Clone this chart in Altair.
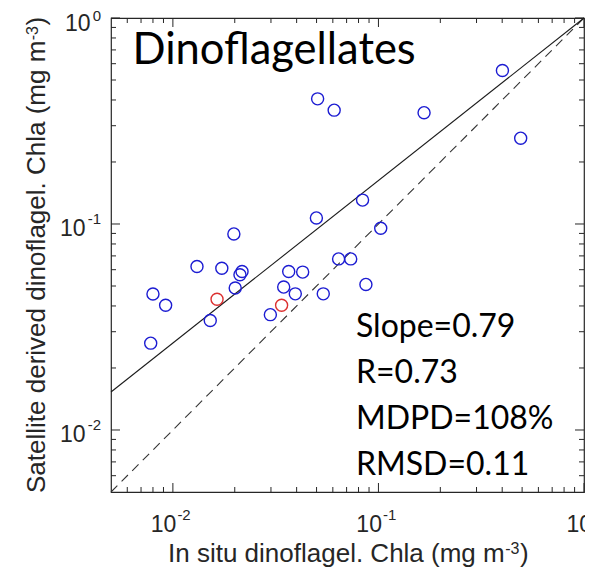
import altair as alt
import pandas as pd

# ---------------- data ----------------
insitu_blue = [0.401, 0.0506, 0.0609, 0.1667, 0.492, 0.0837, 0.0499, 0.1026, 0.0640,
               0.0733, 0.0198, 0.0131, 0.0173, 0.0217, 0.0212, 0.0366, 0.0428, 0.0080,
               0.0201, 0.0346, 0.0394, 0.0539, 0.0869, 0.00922, 0.0152, 0.0298, 0.0078]
sat_blue = [0.556, 0.405, 0.357, 0.347, 0.261, 0.1306, 0.107, 0.0953, 0.0677,
            0.0677, 0.0895, 0.0622, 0.0610, 0.0588, 0.0567, 0.0588, 0.0584, 0.0457,
            0.0489, 0.0494, 0.0458, 0.0458, 0.0509, 0.0403, 0.0340, 0.0363, 0.0264]
insitu_red = [0.0164, 0.0338]
sat_red = [0.0431, 0.0403]

fit_x = [0.005, 1.0]
fit_y = [0.0153, 1.0]
one_x = [0.005, 1.0]
one_y = [0.005, 1.0]

major_ticks = [0.01, 0.1, 1.0]
minor_ticks = [0.006, 0.007, 0.008, 0.009,
               0.02, 0.03, 0.04, 0.05, 0.06, 0.07, 0.08, 0.09,
               0.2, 0.3, 0.4, 0.5, 0.6, 0.7, 0.8, 0.9]
tick_exponents = ["-2", "-1", "0"]

panel_title = "Dinoflagellates"
stats_lines = ["Slope=0.79", "R=0.73", "MDPD=108%", "RMSD=0.11"]
x_title = "In situ dinoflagel. Chla (mg m"
y_title = "Satellite derived dinoflagel. Chla (mg m"
unit_exp = "-3"

# ---------------- layout / style ----------------
W, H = 473, 474
FRAME = "#262626"
SANS = "Liberation Sans"
CAL = "Lato"

xs = alt.Scale(type="log", domain=[0.005, 1.0], nice=False)
ys = alt.Scale(type="log", domain=[0.005, 1.0], nice=False)

pts = pd.DataFrame({
    "insitu": insitu_blue + insitu_red,
    "sat": sat_blue + sat_red,
    "grp": ["blue"] * len(insitu_blue) + ["red"] * len(insitu_red),
})
fit = pd.DataFrame({"x": fit_x, "y": fit_y})
one = pd.DataFrame({"x": one_x, "y": one_y})
maj = pd.DataFrame({"v": major_ticks})
mnr = pd.DataFrame({"v": minor_ticks})
labs = pd.DataFrame({"v": major_ticks, "exp": tick_exponents, "base": ["10"] * 3})
labs_neg = labs[labs["v"] < 1.0]
labs_zero = labs[labs["v"] >= 1.0]
one_row = pd.DataFrame({"a": [0]})

X = lambda f: alt.X(f, type="quantitative", scale=xs, axis=None)
Y = lambda f: alt.Y(f, type="quantitative", scale=ys, axis=None)

layers = []

# tick marks (inside, on all four sides)
for df, ln in ((maj, 9), (mnr, 5)):
    layers.append(alt.Chart(df).mark_rule(color=FRAME, strokeWidth=1).encode(
        x=X("v"), y=alt.value(H), y2=alt.value(H - ln)))
    layers.append(alt.Chart(df).mark_rule(color=FRAME, strokeWidth=1).encode(
        x=X("v"), y=alt.value(0), y2=alt.value(ln)))
    layers.append(alt.Chart(df).mark_rule(color=FRAME, strokeWidth=1).encode(
        y=Y("v"), x=alt.value(0), x2=alt.value(ln)))
    layers.append(alt.Chart(df).mark_rule(color=FRAME, strokeWidth=1).encode(
        y=Y("v"), x=alt.value(W), x2=alt.value(W - ln)))

# 1:1 line and regression line
layers.append(alt.Chart(one).mark_line(color="#333333", strokeWidth=1.1, strokeDash=[9, 6]).encode(
    x=X("x"), y=Y("y")))
layers.append(alt.Chart(fit).mark_line(color="#1a1a1a", strokeWidth=1.1).encode(
    x=X("x"), y=Y("y")))

# points
layers.append(alt.Chart(pts).mark_point(shape="circle", filled=False, size=145, strokeWidth=1.4,
                                        opacity=1).encode(
    x=X("insitu"), y=Y("sat"),
    color=alt.Color("grp:N", scale=alt.Scale(domain=["blue", "red"], range=["#1c1cd2", "#dc3030"]),
                    legend=None)))

# x tick labels 10^n
for df, dxb, dxe in ((labs_neg, 3.5, 4.5), (labs_zero, 8, 9)):
    layers.append(alt.Chart(df).mark_text(font=SANS, fontSize=23, color=FRAME, align="right",
                                          baseline="alphabetic", dx=dxb).encode(
        x=X("v"), y=alt.value(H + 40), text="base:N"))
    layers.append(alt.Chart(df).mark_text(font=SANS, fontSize=15, color=FRAME, align="left",
                                          baseline="alphabetic", dx=dxe).encode(
        x=X("v"), y=alt.value(H + 28), text="exp:N"))

# y tick labels 10^n
for df, xb, dye in ((labs_neg, -25.5, 0), (labs_zero, -20.5, 3)):
    layers.append(alt.Chart(df).mark_text(font=SANS, fontSize=23, color=FRAME, align="right",
                                          baseline="alphabetic", dy=12.5).encode(
        y=Y("v"), x=alt.value(xb), text="base:N"))
    layers.append(alt.Chart(df).mark_text(font=SANS, fontSize=15, color=FRAME, align="right",
                                          baseline="alphabetic", dy=dye).encode(
        y=Y("v"), x=alt.value(-10), text="exp:N"))

# x axis title
layers.append(alt.Chart(one_row).mark_text(font=SANS, fontSize=26, color=FRAME, align="left",
                                           baseline="alphabetic", text=x_title).encode(
    x=alt.value(57), y=alt.value(H + 70)))
layers.append(alt.Chart(one_row).mark_text(font=SANS, fontSize=16, color=FRAME, align="left",
                                           baseline="alphabetic", text=unit_exp).encode(
    x=alt.value(394.2), y=alt.value(H + 62)))
layers.append(alt.Chart(one_row).mark_text(font=SANS, fontSize=26, color=FRAME, align="left",
                                           baseline="alphabetic", text=")").encode(
    x=alt.value(408.9), y=alt.value(H + 70)))

# y axis title (rotated)
layers.append(alt.Chart(one_row).mark_text(font=SANS, fontSize=26, color=FRAME, align="left",
                                           baseline="alphabetic", angle=270, text=y_title).encode(
    x=alt.value(-66), y=alt.value(H + 1)))
layers.append(alt.Chart(one_row).mark_text(font=SANS, fontSize=16, color=FRAME, align="left",
                                           baseline="alphabetic", angle=270, text=unit_exp).encode(
    x=alt.value(-73), y=alt.value(22.3)))
layers.append(alt.Chart(one_row).mark_text(font=SANS, fontSize=26, color=FRAME, align="left",
                                           baseline="alphabetic", angle=270, text=")").encode(
    x=alt.value(-66), y=alt.value(7.6)))

# panel title and statistics
layers.append(alt.Chart(one_row).mark_text(font=CAL, fontSize=43.5, color="black", align="left",
                                           baseline="alphabetic", text=panel_title).encode(
    x=alt.value(21.5), y=alt.value(45.5)))
layers.append(alt.Chart(one_row).mark_text(font=CAL, fontSize=32, color="black", align="left",
                                           baseline="alphabetic", lineHeight=46,
                                           text=stats_lines).encode(
    x=alt.value(245), y=alt.value(318.5)))

chart = alt.layer(*layers).properties(
    width=W, height=H,
    autosize=alt.AutoSizeParams(type="none"),
    padding={"left": 103, "top": 10, "right": 1, "bottom": 76},
).configure_view(stroke=FRAME, strokeWidth=1.2)

chart.save("out.html", embed_options={"renderer": "svg", "actions": False})
